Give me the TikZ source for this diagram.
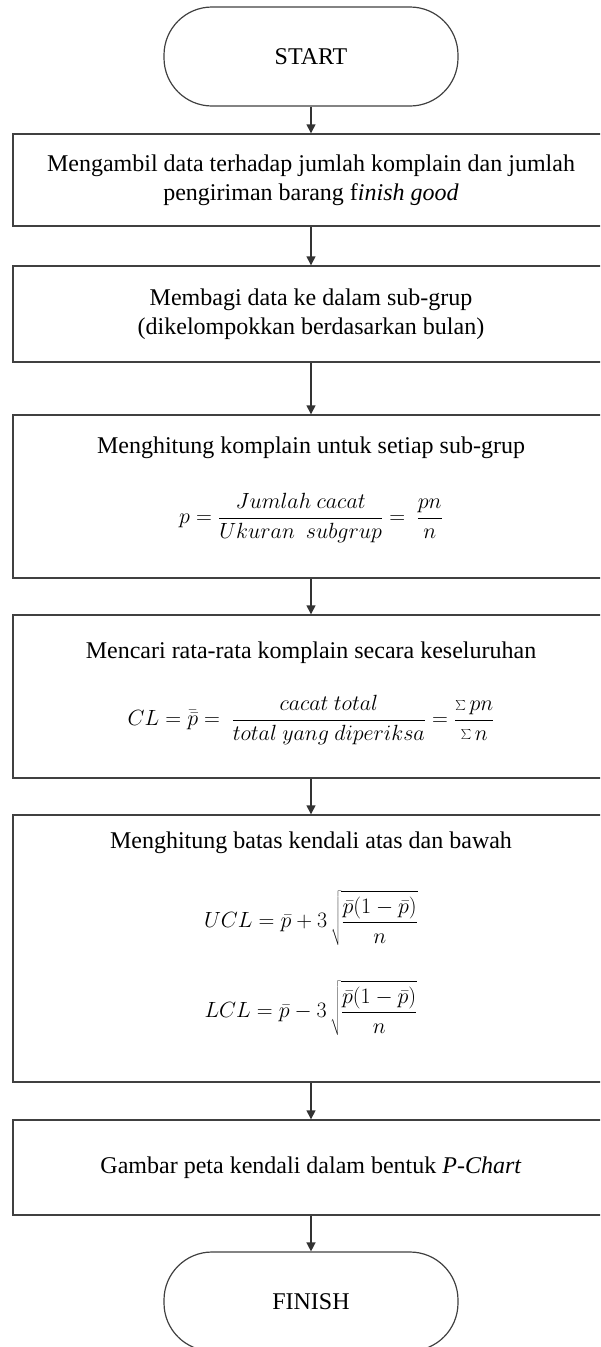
\documentclass[tikz,border=0pt]{standalone}
\usepackage{fix-cm}
\usepackage{fontspec}
\setmainfont{Liberation Serif}
\usetikzlibrary{arrows.meta}

\tikzset{
    proses/.style={draw=black!75, line width=1.4pt, rectangle,
        minimum width=596pt, minimum height=#1, inner sep=0pt,
        align=center, font=\fontsize{24}{29}\selectfont},
    terminal/.style={draw=black!75, line width=1.2pt, rectangle,
        rounded corners=48pt, minimum width=294pt, minimum height=99pt,
        inner sep=0pt, font=\fontsize{24}{29}\selectfont},
    teks/.style={align=center, inner sep=0pt, font=\fontsize{24}{29}\selectfont},
    rumus/.style={inner sep=0pt, font=\fontsize{22}{26}\selectfont},
    panah/.style={draw=black!80, line width=1.4pt, -{Triangle[length=9pt,width=9pt]}}
}

\begin{document}
\begin{tikzpicture}[x=1pt, y=-1pt]
    % page frame, same size as the scanned figure
    \useasboundingbox (0,0) rectangle (600,1347);
    \clip (0,0) rectangle (600,1347);

    % start and finish
    \node[terminal] (start) at (311,56.5) {START};
    \node[terminal] (finish) at (311,1301.5) {FINISH};

    % process steps
    \node[proses=92pt] (b1) at (311,180)
        {Mengambil data terhadap jumlah komplain dan jumlah\\
         pengiriman barang f\textit{inish good}};
    \node[proses=96pt] (b2) at (311,314)
        {Membagi data ke dalam sub-grup\\(dikelompokkan berdasarkan bulan)};
    \node[proses=163pt] (b3) at (311,496.5) {};
    \node[proses=163pt] (b4) at (311,696.5) {};
    \node[proses=267pt] (b5) at (311,948.5) {};
    \node[proses=95pt] (b6) at (311,1167.5)
        {Gambar peta kendali dalam bentuk \textit{P-Chart}};

    % text and formulas inside the tall boxes
    \node[teks] (t3) at (311,448) {Menghitung komplain untuk setiap sub-grup};
    \node[rumus] (f3) at (311,518)
        {$\displaystyle p=\frac{Jumlah\ cacat}{Ukuran\ \ subgrup}=\ \frac{pn}{n}$};

    \node[teks] (t4) at (311,653) {Mencari rata-rata komplain secara keseluruhan};
    \node[rumus] (f4) at (311,720)
        {$\displaystyle CL=\bar{\bar{p}}=\ \frac{cacat\ total}{total\ yang\ diperiksa}=\frac{\textstyle\sum pn}{\textstyle\sum n}$};

    \node[teks] (t5) at (311,843) {Menghitung batas kendali atas dan bawah};
    \node[rumus] (ucl) at (311,918)
        {$\displaystyle UCL=\bar{p}+3\,\sqrt{\frac{\bar{p}(1-\bar{p})}{n}}$};
    \node[rumus] (lcl) at (311,1008)
        {$\displaystyle LCL=\bar{p}-3\,\sqrt{\frac{\bar{p}(1-\bar{p})}{n}}$};

    % flow arrows
    \foreach \a/\b in {start/b1, b1/b2, b2/b3, b3/b4, b4/b5, b5/b6, b6/finish}
        \draw[panah] (\a) -- (\b);
\end{tikzpicture}
\end{document}
